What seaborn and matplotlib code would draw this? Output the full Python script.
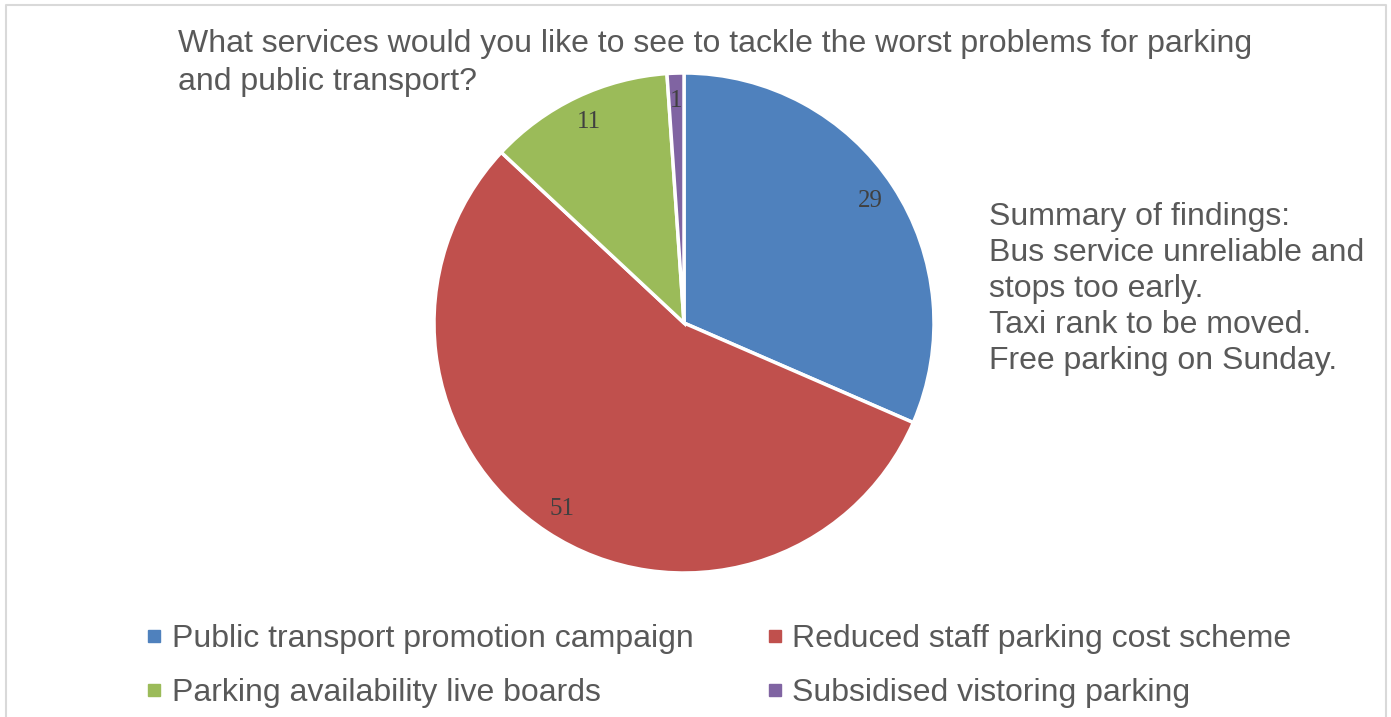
import matplotlib
matplotlib.use("Agg")
import matplotlib.pyplot as plt
from matplotlib.lines import Line2D
import seaborn as sns

categories = [
    "Public transport promotion campaign",
    "Reduced staff parking cost scheme",
    "Parking availability live boards",
    "Subsidised vistoring parking",
]
responses = [29, 51, 11, 1]
colors = ["#4F81BD", "#C0504D", "#9BBB59", "#8064A2"]
title_lines = [
    "What services would you like to see to tackle the worst problems for parking",
    "and public transport?",
]
summary = ("Summary of findings:\nBus service unreliable and\nstops too early.\n"
           "Taxi rank to be moved.\nFree parking on Sunday.")

sns.set_theme(style="white")
plt.rcParams["font.family"] = ["Liberation Sans", "DejaVu Sans"]
text_gray = "#595959"

W, H = 1391, 717
fig = plt.figure(figsize=(W / 100, H / 100), dpi=100)

# outer chart frame
frame = fig.add_axes([0, 0, 1, 1])
frame.set_xlim(0, W)
frame.set_ylim(H, 0)
frame.axis("off")
frame.plot([6, 6, 1386, 1386], [H + 5, 5, 5, H + 5], color="#D9D9D9", lw=1.5)

# pie axes: centre (684, 323), radius 250 px
cx, cy, r = 684, 323, 250
ax = fig.add_axes([(cx - r) / W, (H - cy - r) / H, 2 * r / W, 2 * r / H])
wedges, texts = ax.pie(
    responses,
    colors=colors,
    startangle=90,
    counterclock=False,
    labels=[str(v) for v in responses],
    labeldistance=0.89,
    wedgeprops=dict(edgecolor="white", linewidth=2.5),
    textprops=dict(family="Liberation Serif", fontsize=18, color="#404040"),
)
for t in texts:
    t.set_ha("center")
    t.set_va("center")
ax.set_xlim(-1, 1)
ax.set_ylim(-1, 1)
ax.set_aspect("equal")

# two-line title, one text per line
for i, line in enumerate(title_lines):
    fig.text(178 / W, 1 - (29 + 38 * i) / H, line, ha="left", va="top",
             fontsize=23, color=text_gray)
fig.text(989 / W, 1 - 202 / H, summary, ha="left", va="top", fontsize=23,
         color=text_gray, linespacing=1.26)

order = [0, 2, 1, 3]
handles = [Line2D([], [], marker="s", linestyle="none", markersize=8,
                  markerfacecolor=colors[i], markeredgecolor=colors[i]) for i in order]
labels = [categories[i] for i in order]
fig.legend(handles, labels, ncol=2, loc="upper left",
           bbox_to_anchor=(146 / W, 1 - 624 / H), frameon=False,
           fontsize=23, labelcolor=text_gray, handlelength=0.5,
           handletextpad=0.3, columnspacing=2.3, labelspacing=0.75,
           borderaxespad=0, borderpad=0)

fig.savefig("out.png", dpi=100, facecolor="white")
